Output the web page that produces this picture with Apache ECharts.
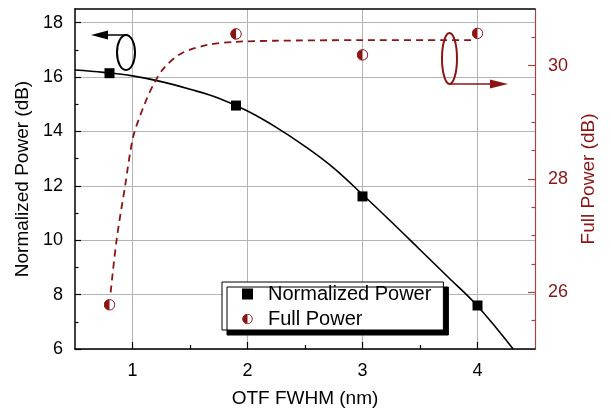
<!DOCTYPE html>
<html>
<head>
<meta charset="utf-8">
<script src="https://cdn.jsdelivr.net/npm/echarts@6/dist/echarts.min.js"></script>
<style>
  html, body { margin: 0; padding: 0; background: #fff; }
  #box { width: 611px; height: 408px; }
</style>
</head>
<body>
<div id="box"></div>
<script>
// measured points
var fwhm = [0.8, 1.9, 3.0, 4.0];
var normPower = [16.14, 14.95, 11.61, 7.6];
var fullPower = [25.78, 30.56, 30.19, 30.57];

// fitted curves
var normFitX = [0.5, 0.75, 1.0, 1.25, 1.5, 1.75, 2.0, 2.25, 2.5, 2.75, 3.0, 3.25, 3.5, 3.75, 4.0, 4.31];
var normFitY = [16.26, 16.17, 16.04, 15.83, 15.55, 15.22, 14.75, 14.15, 13.45, 12.65, 11.68, 10.68, 9.65, 8.62, 7.58, 6.0];
var fullFitX = [0.81, 0.862, 0.935, 1.007, 1.109, 1.196, 1.283, 1.428, 1.66, 1.89, 2.24, 3.0, 3.98];
var fullFitY = [26.0, 26.93, 27.87, 28.75, 29.34, 29.72, 29.98, 30.22, 30.37, 30.42, 30.44, 30.45, 30.45];

// ticks
var xMajor = [1, 2, 3, 4];
var xMinor = [1.5, 2.5, 3.5];
var yLeftMajor = [6, 8, 10, 12, 14, 16, 18];
var yLeftMinor = [7, 9, 11, 13, 15, 17];
var yRightMajor = [26, 28, 30];
var yRightMinor = [25.5, 26.5, 27, 27.5, 28.5, 29, 29.5, 30.5];

var RED = '#8b1414';
var FONT = 'Liberation Sans, Arial, sans-serif';

function pairs(xs, ys) {
    return xs.map(function (x, i) { return [x, ys[i]]; });
}

var halfDot = 'image://data:image/svg+xml;charset=utf-8,' + encodeURIComponent(
    "<svg xmlns='http://www.w3.org/2000/svg' width='24' height='24' viewBox='0 0 24 24'>" +
    "<circle cx='12' cy='12' r='10.5' fill='#fff' stroke='" + RED + "' stroke-width='2'/>" +
    "<path d='M12 1.5A10.5 10.5 0 0 0 12 22.5Z' fill='" + RED + "'/></svg>");

var myChart = echarts.init(document.getElementById('box'));

var blackLine = { lineStyle: { color: '#000', width: 1.5 } };

var option = {
    backgroundColor: '#fff',
    animation: false,
    grid: { left: 75, right: 76, top: 9, bottom: 59, outerBoundsMode: 'none' },
    legend: {
        orient: 'vertical',
        left: 222,
        top: 282,
        padding: [2, 12, 1, 20],
        itemWidth: 11,
        itemHeight: 11,
        itemGap: 5,
        backgroundColor: '#fff',
        borderColor: '#000',
        borderWidth: 1,
        shadowColor: '#000',
        shadowBlur: 0,
        shadowOffsetX: 5,
        shadowOffsetY: 5,
        textStyle: { fontSize: 20, fontFamily: FONT, color: '#000', lineHeight: 20, padding: [0, 0, 0, 10] },
        data: [
            { name: 'Normalized Power', icon: 'rect', itemStyle: { color: '#000' } },
            { name: 'Full Power', icon: halfDot }
        ]
    },
    xAxis: [{
        type: 'value', position: 'bottom', min: 0.5, max: 4.5,
        name: 'OTF FWHM (nm)', nameLocation: 'middle', nameGap: 40,
        nameTextStyle: { fontSize: 19, fontFamily: FONT, color: '#000' },
        axisLine: blackLine,
        axisTick: { inside: true, length: 7, customValues: xMajor, lineStyle: { color: '#000', width: 1.2 } },
        axisLabel: { customValues: xMajor, margin: 13, fontSize: 18, fontFamily: FONT, color: '#000' },
        splitLine: { show: true, lineStyle: { color: '#b4b4b4', width: 1 } }
    }, {
        type: 'value', position: 'bottom', min: 0.5, max: 4.5,
        axisLine: { show: false },
        axisTick: { inside: true, length: 4, customValues: xMinor, lineStyle: { color: '#000', width: 1.2 } },
        axisLabel: { show: false },
        splitLine: { show: false }
    }, {
        type: 'value', position: 'top', min: 0.5, max: 4.5,
        axisLine: blackLine,
        axisTick: { show: false },
        axisLabel: { show: false },
        splitLine: { show: false }
    }],
    yAxis: [{
        type: 'value', position: 'left', min: 6, max: 18.5,
        name: 'Normalized Power (dB)', nameLocation: 'middle', nameGap: 42, nameRotate: 90,
        nameTextStyle: { fontSize: 19, fontFamily: FONT, color: '#000' },
        axisLine: blackLine,
        axisTick: { inside: true, length: 6, customValues: yLeftMajor, lineStyle: { color: '#000', width: 1.2 } },
        axisLabel: { customValues: yLeftMajor, margin: 12, fontSize: 18, fontFamily: FONT, color: '#000' },
        splitLine: { show: true, lineStyle: { color: '#b4b4b4', width: 1 } }
    }, {
        type: 'value', position: 'right', min: 25, max: 31,
        name: 'Full Power (dB)', nameLocation: 'middle', nameGap: 43, nameRotate: 90,
        nameTextStyle: { fontSize: 19, fontFamily: FONT, color: RED },
        axisLine: { lineStyle: { color: '#a04848', width: 1.2 } },
        axisTick: { inside: true, length: 7, customValues: yRightMajor, lineStyle: { color: '#a04848', width: 1.2 } },
        axisLabel: { customValues: yRightMajor, margin: 13, fontSize: 18, fontFamily: FONT, color: RED },
        splitLine: { show: false }
    }, {
        type: 'value', position: 'left', min: 6, max: 18.5,
        axisLine: { show: false },
        axisTick: { inside: true, length: 3.5, customValues: yLeftMinor, lineStyle: { color: '#000', width: 1.2 } },
        axisLabel: { show: false },
        splitLine: { show: false }
    }, {
        type: 'value', position: 'right', min: 25, max: 31,
        axisLine: { show: false },
        axisTick: { inside: true, length: 3.5, customValues: yRightMinor, lineStyle: { color: '#a04848', width: 1.2 } },
        axisLabel: { show: false },
        splitLine: { show: false }
    }],
    series: [{
        name: 'fit-norm', type: 'line', xAxisIndex: 0, yAxisIndex: 0,
        data: pairs(normFitX, normFitY),
        showSymbol: false, smooth: 0.4,
        lineStyle: { color: '#000', width: 1.6 }, z: 2, silent: true
    }, {
        name: 'fit-full', type: 'line', xAxisIndex: 0, yAxisIndex: 1,
        data: pairs(fullFitX, fullFitY),
        showSymbol: false, smooth: 0.3,
        lineStyle: { color: RED, width: 1.8, type: [7, 5] }, z: 2, silent: true
    }, {
        name: 'Normalized Power', type: 'scatter', xAxisIndex: 0, yAxisIndex: 0,
        data: pairs(fwhm, normPower),
        symbol: 'rect', symbolSize: 10,
        itemStyle: { color: '#000', opacity: 1 }, z: 5
    }, {
        name: 'Full Power', type: 'scatter', xAxisIndex: 0, yAxisIndex: 1,
        data: pairs(fwhm, fullPower),
        symbol: halfDot, symbolSize: 12,
        itemStyle: { color: RED, opacity: 1 }, z: 5
    }],
    graphic: [
        // left ellipse with arrow pointing to left axis
        { type: 'ellipse', shape: { cx: 126, cy: 52.5, rx: 9, ry: 17.5 },
          style: { fill: 'none', stroke: '#000', lineWidth: 2 }, z: 10 },
        { type: 'line', shape: { x1: 126, y1: 35, x2: 100, y2: 35 },
          style: { stroke: '#000', lineWidth: 1.5 }, z: 10 },
        { type: 'polygon', shape: { points: [[91, 35], [108, 30.5], [108, 39.5]] },
          style: { fill: '#000' }, z: 10 },
        // right ellipse with arrow pointing to right axis
        { type: 'ellipse', shape: { cx: 449.5, cy: 58.5, rx: 7.5, ry: 25.5 },
          style: { fill: 'none', stroke: RED, lineWidth: 2 }, z: 10 },
        { type: 'line', shape: { x1: 449.5, y1: 84, x2: 495, y2: 84 },
          style: { stroke: RED, lineWidth: 1.5 }, z: 10 },
        { type: 'polygon', shape: { points: [[508, 84], [490, 79.5], [490, 88.5]] },
          style: { fill: RED }, z: 10 }
    ]
};

myChart.setOption(option);
</script>
</body>
</html>
